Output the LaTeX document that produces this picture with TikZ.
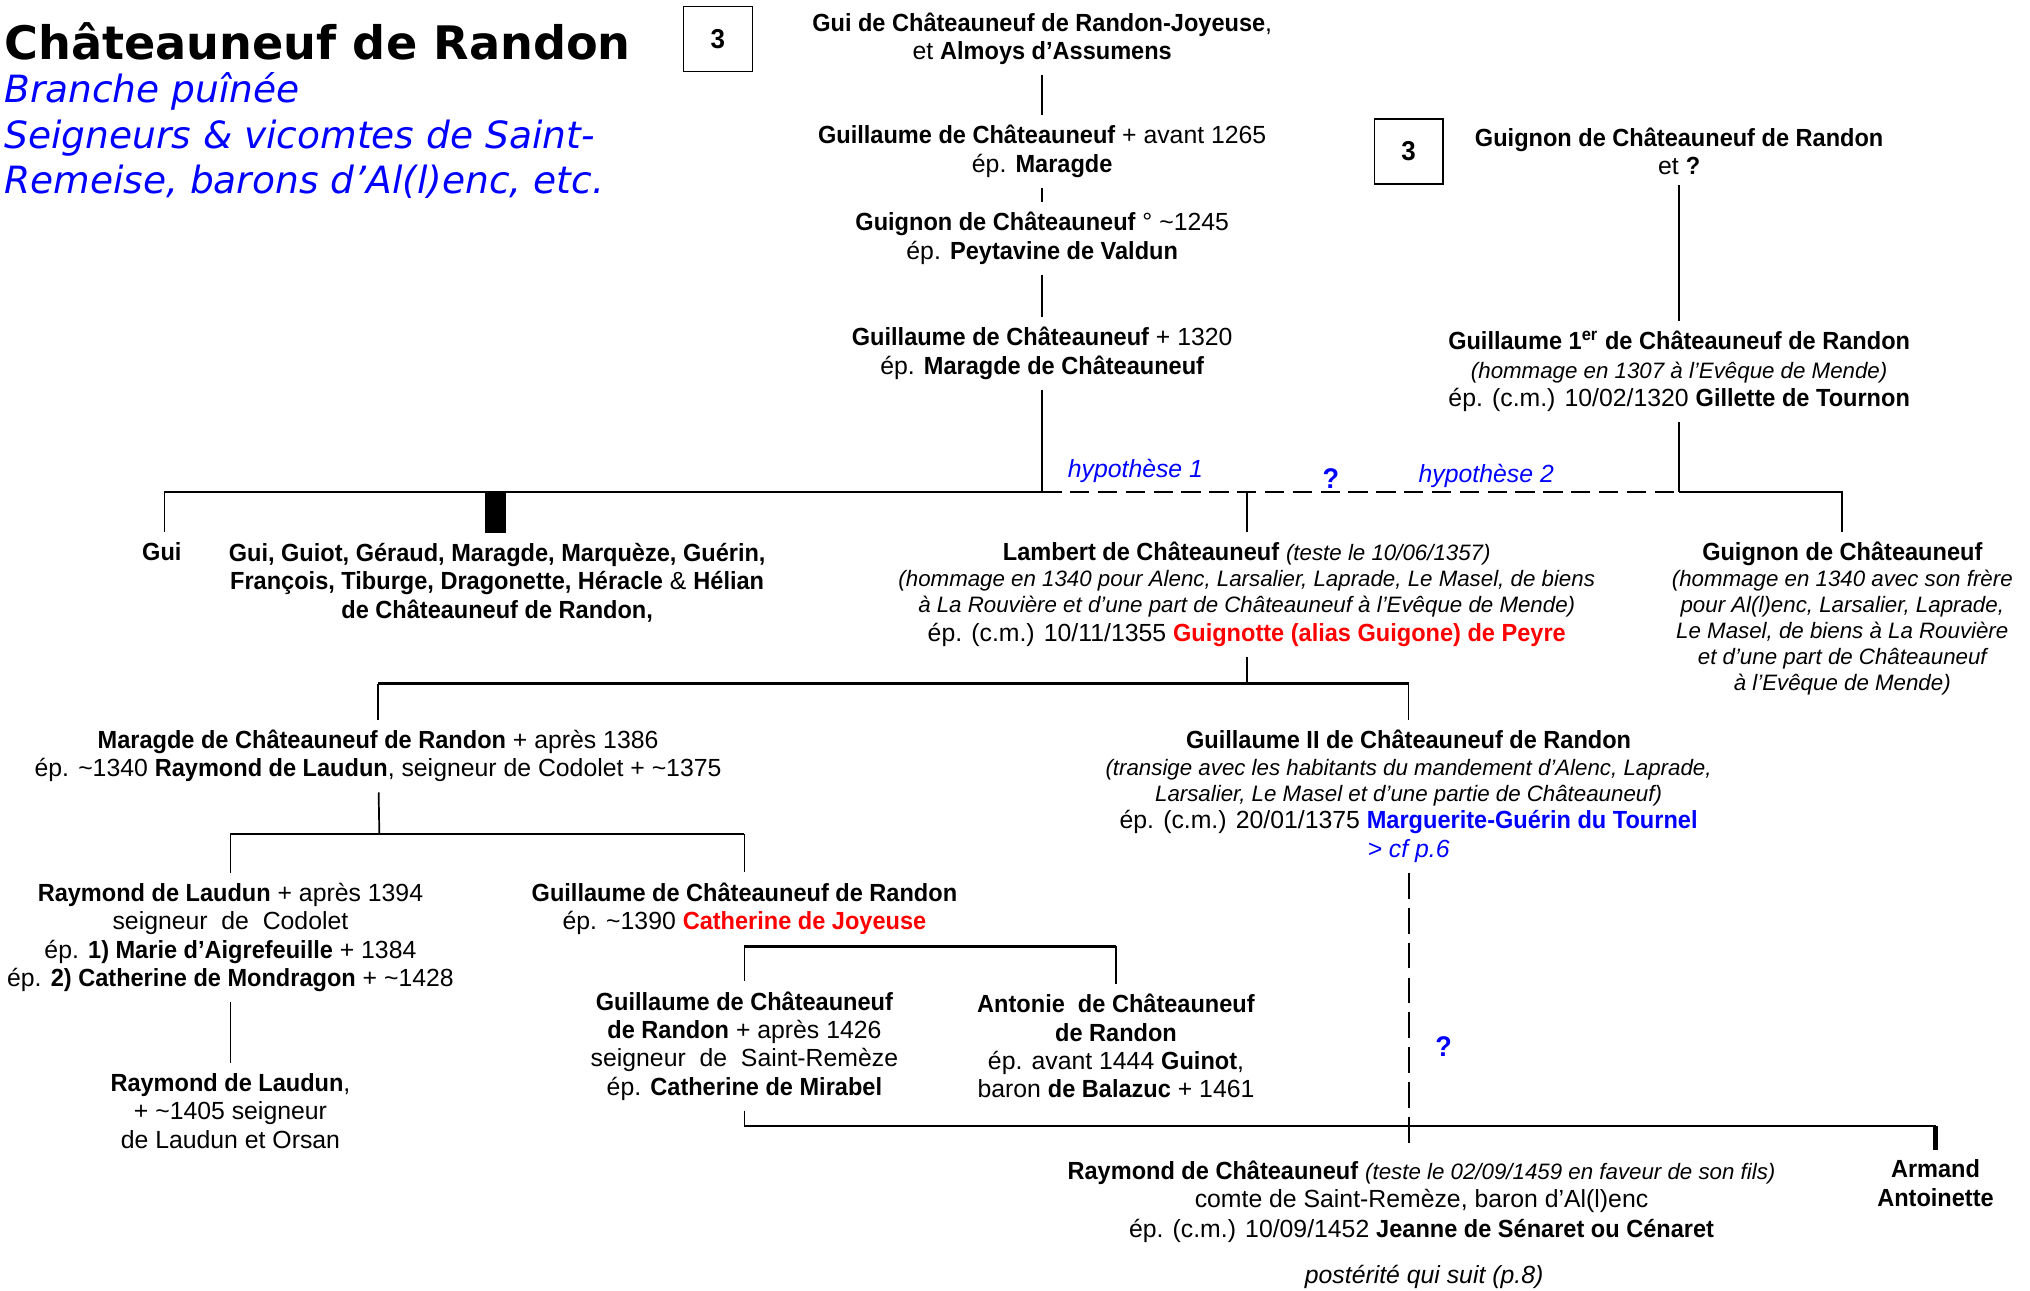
\documentclass[tikz,border=0pt]{standalone}
\usepackage{fontspec}
\setmainfont{Liberation Sans}[BoldFeatures={FakeStretch=0.95}]
\newfontfamily\titlefamily{DejaVu Sans}
\usetikzlibrary{positioning}
\definecolor{mBlue}{HTML}{0000FF}
\definecolor{mRed}{HTML}{FF0000}
\newcommand{\bodyfont}{\fontsize{10.9}{12.5}\selectfont}
\newcommand{\notefont}{\fontsize{9.8}{11.4}\selectfont\itshape}
\newcommand{\circa}{\textasciitilde}

\begin{document}
\begin{tikzpicture}[x=0.2mm, y=-0.2mm,
    person/.style={align=center, inner sep=0pt, outer ysep=1.6mm, font=\bodyfont},
    subtitle/.style={inner sep=0pt, text=mBlue, font=\titlefamily\fontsize{16.5}{20}\selectfont\itshape},
    link/.style={line width=0.75pt},
    bus/.style={line width=1pt},
    hypo/.style={dash pattern=on 3mm off 1.3mm},
    blue note/.style={inner sep=0pt, text=mBlue, font=\bodyfont\itshape},
    qmark/.style={inner sep=0pt, text=mBlue, font=\fontsize{12.5}{14}\selectfont\bfseries},
    pagebox/.style={draw, line width=0.6pt, minimum width=10.6mm, minimum height=10mm, inner sep=0pt, font=\fontsize{12}{14}\selectfont\bfseries}]
    \useasboundingbox (0,0) rectangle (1568,997);

    % title
    \node[anchor=base west, inner sep=0pt, font=\titlefamily\fontsize{20.3}{24}\selectfont\bfseries] (title) at (3,46) {Châteauneuf de Randon};
    \foreach \txt [count=\i from 0] in {Branche puînée, Seigneurs \& vicomtes de Saint-, {Remeise, barons d’Al(l)enc, etc.}} {
      \node[subtitle, anchor=base west] (sub\i) at (3,79.5+35*\i) {\txt};
    }
    \node[pagebox] (page1) at (554.5,30) {3};
    \node[pagebox] (page2) at (1088,117) {3};

    % generations
    \node[person] (gui) at (805,30) {\textbf{Gui de Châteauneuf de Randon-Joyeuse},\\ et \textbf{Almoys d’Assumens}};
    \node[person] (guilA) at (805,117) {\textbf{Guillaume de Châteauneuf} + avant 1265\\ ép. \textbf{Maragde}};
    \node[person] (guignonA) at (805,184) {\textbf{Guignon de Châteauneuf} ° \circa1245\\ ép. \textbf{Peytavine de Valdun}};
    \node[person] (guilB) at (805,273) {\textbf{Guillaume de Châteauneuf} + 1320\\ ép. \textbf{Maragde de Châteauneuf}};
    \node[person] (guignonB) at (1297,117) {\textbf{Guignon de Châteauneuf de Randon}\\ et \textbf{?}};
    \node[person] (guil1) at (1297,287) {\textbf{Guillaume 1\textsuperscript{er} de Châteauneuf de Randon}\\ {\notefont(hommage en 1307 à l’Evêque de Mende)}\\ ép. (c.m.) 10/02/1320 \textbf{Gillette de Tournon}};

    \node[person] (gui1) at (125,426) {\textbf{Gui}};
    \node[person] (siblings) at (384,450) {\textbf{Gui, Guiot, Géraud, Maragde, Marquèze, Guérin,}\\ \textbf{François, Tiburge, Dragonette, Héracle} \& \textbf{Hélian}\\ \textbf{de Châteauneuf de Randon,}};
    \node[person] (lambert) at (963,459) {\textbf{Lambert de Châteauneuf} {\notefont(teste le 10/06/1357)}\\[-1.1pt] {\notefont(hommage en 1340 pour Alenc, Larsalier, Laprade, Le Masel, de biens}\\[-1.1pt] {\notefont à La Rouvière et d’une part de Châteauneuf à l’Evêque de Mende)}\\ ép. (c.m.) 10/11/1355 \textcolor{mRed}{\textbf{Guignotte (alias Guigone) de Peyre}}};
    \node[person, font=\notefont] (guignonC) at (1423,478) {{\bodyfont\upshape\bfseries Guignon de Châteauneuf}\\ (hommage en 1340 avec son frère\\ pour Al(l)enc, Larsalier, Laprade,\\ Le Masel, de biens à La Rouvière\\ et d’une part de Châteauneuf\\ à l’Evêque de Mende)};

    \node[person] (maragde) at (292,584) {\textbf{Maragde de Châteauneuf de Randon} + après 1386\\ ép. \circa1340 \textbf{Raymond de Laudun}, seigneur de Codolet + \circa1375};
    \node[person] (guil2) at (1088,615) {\textbf{Guillaume II de Châteauneuf de Randon}\\[-0.6pt] {\notefont(transige avec les habitants du mandement d’Alenc, Laprade,}\\[-1.1pt] {\notefont Larsalier, Le Masel et d’une partie de Châteauneuf)}\\[-0.6pt] ép. (c.m.) 20/01/1375 \textcolor{mBlue}{\textbf{Marguerite-Guérin du Tournel}}\\ \textcolor{mBlue}{\itshape > cf p.6}};

    \node[person] (raymondL) at (178,724) {\textbf{Raymond de Laudun} + après 1394\\ seigneur\ \ de\ \ Codolet\\ ép. \textbf{1) Marie d’Aigrefeuille} + 1384\\ ép. \textbf{2) Catherine de Mondragon} + \circa1428};
    \node[person] (guilC) at (575,702) {\textbf{Guillaume de Châteauneuf de Randon}\\ ép. \circa1390 \textcolor{mRed}{\textbf{Catherine de Joyeuse}}};
    \node[person] (raymondL2) at (178,858) {\textbf{Raymond de Laudun},\\ + \circa1405 seigneur\\ de Laudun et Orsan};
    \node[person] (guilD) at (575,808) {\textbf{Guillaume de Châteauneuf}\\ \textbf{de Randon} + après 1426\\ seigneur\ \ de\ \ Saint-Remèze\\ ép. \textbf{Catherine de Mirabel}};
    \node[person] (antonie) at (862,808) {\textbf{Antonie\ \ de Châteauneuf}\\ \textbf{de Randon}\\ ép. avant 1444 \textbf{Guinot},\\ baron \textbf{de Balazuc} + 1461};
    \node[person] (raymondC) at (1098,928) {\textbf{Raymond de Châteauneuf} {\notefont(teste le 02/09/1459 en faveur de son fils)}\\ comte de Saint-Remèze, baron d’Al(l)enc\\[0.5pt] ép. (c.m.) 10/09/1452 \textbf{Jeanne de Sénaret ou Cénaret}};
    \node[person] (armand) at (1495,914) {\textbf{Armand}\\ \textbf{Antoinette}};
    \node[person, font=\bodyfont\itshape] (posterity) at (1100,986) {postérité qui suit (p.8)};

    % labels
    \node[blue note] (hyp1) at (877,364) {hypothèse 1};
    \node[qmark] (q1) at (1028,370) {?};
    \node[blue note] (hyp2) at (1148,368) {hypothèse 2};
    \node[qmark] (q2) at (1115,808) {?};

    % junctions
    \coordinate (j1L) at (127,380);
    \coordinate (j1B) at (383,380);
    \coordinate (j1M) at (805,380);
    \coordinate (j1R) at (1297,380);
    \coordinate (j2) at (963,528);
    \coordinate (j3) at (293,644);
    \coordinate (j4) at (575,731);
    \coordinate (j5) at (575,870);

    % connectors
    \draw[link] (gui) -- (guilA);
    \draw[link] (guilA) -- (guignonA);
    \draw[link] (guignonA) -- (guilB);
    \draw[link] (guilB) -- (j1M);
    \draw[link] (guignonB) -- (guil1);
    \draw[link] (guil1) -- (j1R);
    \draw[bus] (j1L) -- (j1M);
    \draw[bus, hypo] (j1M) -- (j1R);
    \draw[link] (j1R) -| (guignonC);
    \draw[link] (j1L) -- (j1L |- gui1.north);
    \draw[line width=3.2mm] (j1B) -- (j1B |- siblings.north);
    \draw[link] (j1M -| lambert) -- (lambert);

    \draw[link] (lambert) -- (j2);
    \draw[bus] (maragde |- j2) -- (guil2 |- j2);
    \draw[link] (maragde |- j2) -- (maragde);
    \draw[link] (guil2 |- j2) -- (guil2);

    \draw[link] (maragde) -- (j3);
    \draw[bus] (raymondL |- j3) -- (guilC |- j3);
    \draw[link] (raymondL |- j3) -- (raymondL);
    \draw[link] (guilC |- j3) -- (guilC);
    \draw[link] (raymondL) -- (raymondL2);

    \draw[link] (guilC) -- (guilD);
    \draw[bus] (j4) -- (j4 -| antonie);
    \draw[link] (j4 -| antonie) -- (antonie);

    \draw[link] (guilD) -- (j5);
    \draw[bus] (j5) -- (j5 -| armand);
    \draw[line width=2.2pt] (j5 -| armand) -- (armand);
    \draw[line width=0.9pt, dash pattern=on 4mm off 1.4mm] (guil2) -- (guil2 |- raymondC.north);
\end{tikzpicture}
\end{document}
